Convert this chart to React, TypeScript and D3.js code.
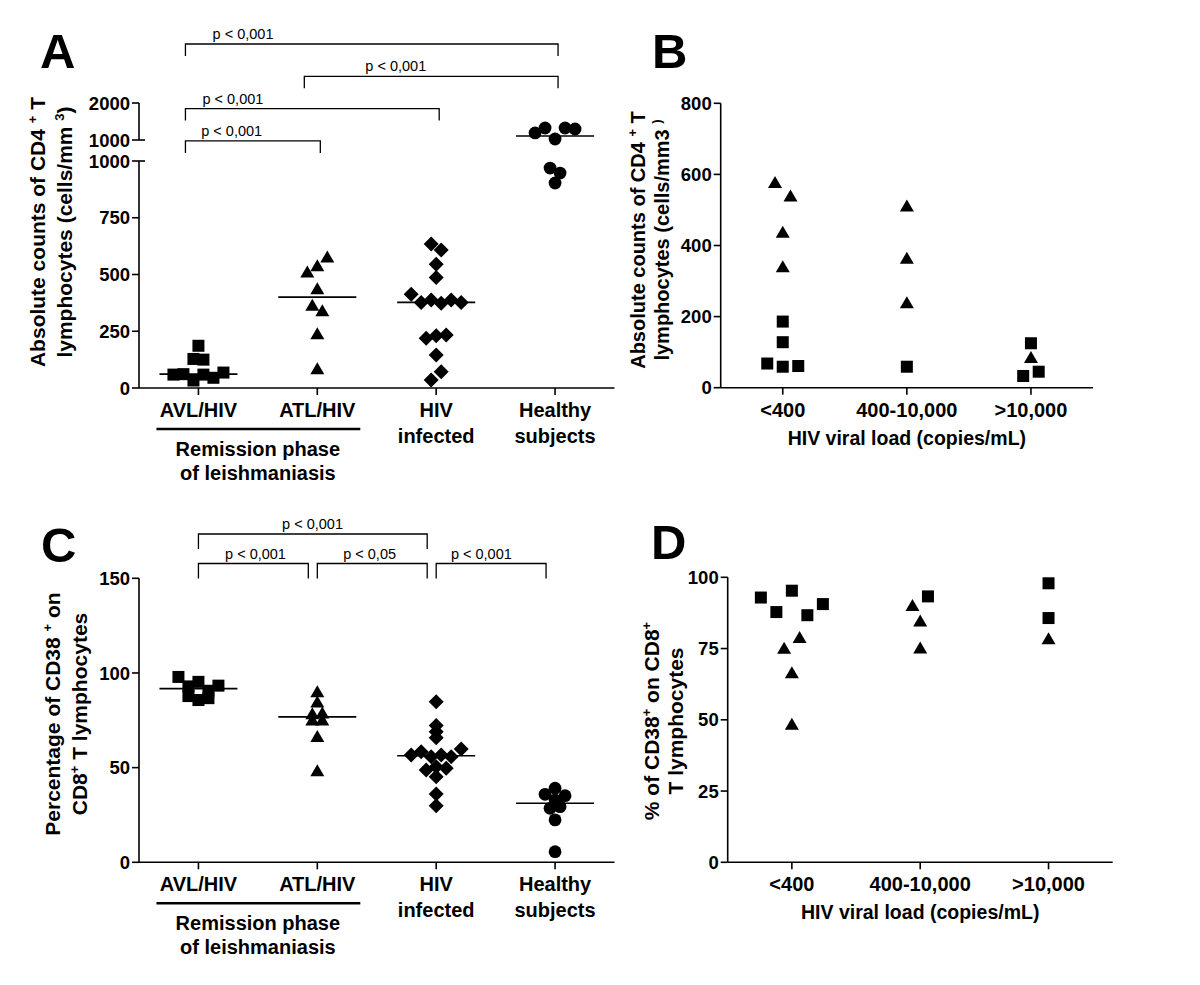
import React from "react";
import * as d3 from "d3";

// ---------------- data ----------------
const groupsAC = ["AVL/HIV", "ATL/HIV", "HIV infected", "Healthy subjects"];
const groupLabelLines = [["AVL/HIV"], ["ATL/HIV"], ["HIV", "infected"], ["Healthy", "subjects"]];
const groupShapes = ["square", "triangle", "diamond", "circle"];
const viralLoadCats = ["<400", "400-10,000", ">10,000"];

// Panel A: absolute CD4+ T counts (cells/mm3)
const cd4AVL = [59, 61, 33, 59, 45, 68, 128, 125, 186];
const cd4ATL = [511, 539, 577, 437, 364, 340, 239, 85];
const cd4HIV = [634, 608, 545, 487, 413, 377, 388, 373, 388, 377, 219, 230, 233, 145, 35, 72];
const cd4Healthy = [1190, 1324, 1027, 1324, 1297, 969, 947, 903];
const cd4TicksLow = [0, 250, 500, 750, 1000];
const cd4TicksHigh = [1000, 2000];

// Panel C: % CD38+ on CD8+ T lymphocytes
const cd38AVL = [97.9, 92.9, 95.3, 90.6, 93.3, 87.8, 85.7, 86.7];
const cd38ATL = [90.1, 84.7, 78.4, 78.9, 75.1, 75.2, 66.5, 48.4];
const cd38HIV = [84.8, 72.2, 69.0, 65.8, 56.7, 58.4, 55.8, 56.7, 55.8, 59.9, 48.8, 50.5, 49.7, 45.2, 36.1, 29.9];
const cd38Healthy = [39.1, 35.9, 32.9, 35.2, 28.5, 29.4, 22.4, 5.6];
const cd38Ticks = [0, 50, 100, 150];

// Panel B: CD4 counts by viral load (AVL = square, ATL = triangle)
const bValues = [
  [68, 59, 61, 128, 186, 577, 539, 437, 340],
  [511, 364, 239, 59],
  [125, 85, 33, 45],
];
const bGroups = [
  ["AVL", "AVL", "AVL", "AVL", "AVL", "ATL", "ATL", "ATL", "ATL"],
  ["ATL", "ATL", "ATL", "AVL"],
  ["AVL", "ATL", "AVL", "AVL"],
];
const bTicks = [0, 200, 400, 600, 800];

// Panel D: % CD38+ by viral load
const dValues = [
  [92.9, 87.8, 95.3, 86.7, 90.6, 75.1, 78.9, 66.5, 48.4],
  [90.1, 93.3, 84.7, 75.2],
  [97.9, 85.7, 78.4],
];
const dGroups = [
  ["AVL", "AVL", "AVL", "AVL", "AVL", "ATL", "ATL", "ATL", "ATL"],
  ["ATL", "AVL", "ATL", "ATL"],
  ["AVL", "AVL", "ATL"],
];
const dTicks = [0, 25, 50, 75, 100];

// significance brackets (group indices, label, stacking level, label centre in category units)
const bracketsA = [
  { from: 0, to: 3, label: "p < 0,001", level: 0, labelAt: 0.375 },
  { from: 1, to: 3, label: "p < 0,001", level: 1, labelAt: 1.66 },
  { from: 0, to: 2, label: "p < 0,001", level: 2, labelAt: 0.29 },
  { from: 0, to: 1, label: "p < 0,001", level: 3, labelAt: 0.28 },
];
const bracketsC = [
  { from: 0, to: 2, label: "p < 0,001", level: 0, labelAt: 0.96 },
  { from: 0, to: 1, label: "p < 0,001", level: 1, labelAt: 0.48 },
  { from: 1, to: 2, label: "p < 0,05", level: 1, labelAt: 1.44 },
  { from: 2, to: 3, label: "p < 0,001", level: 1, labelAt: 2.38 },
];

// axis titles: segments [text, isSuperscript]
const titleA1: [string, boolean][] = [["Absolute counts of CD4 ", false], ["+", true], [" T", false]];
const titleA2: [string, boolean][] = [["lymphocytes (cells/mm ", false], ["3", true], [")", false]];
const titleB1: [string, boolean][] = [["Absolute counts of CD4 ", false], ["+", true], [" T", false]];
const titleB2: [string, boolean][] = [["lymphocytes (cells/mm3 ", false], [")", true]];
const titleC1: [string, boolean][] = [["Percentage of CD38 ", false], ["+", true], [" on", false]];
const titleC2: [string, boolean][] = [["CD8", false], ["+", true], [" T lymphocytes", false]];
const titleD1: [string, boolean][] = [["% of CD38", false], ["+", true], [" on CD8", false], ["+", true]];
const titleD2: [string, boolean][] = [["T lymphocytes", false]];

// ---------------- helpers ----------------
const FONT = "'Liberation Sans', Arial, Helvetica, sans-serif";
const SW = 1.6;

function swarm(ys: number[], step: number, gap: number): number[] {
  const idx = ys.map((_, i) => i).sort((a, b) => ys[b] - ys[a] || a - b);
  const rows: number[][] = [];
  let cur: number[] = [];
  let last = NaN;
  for (const i of idx) {
    if (cur.length && Math.abs(ys[i] - last) < gap) cur.push(i);
    else {
      if (cur.length) rows.push(cur);
      cur = [i];
    }
    last = ys[i];
  }
  if (cur.length) rows.push(cur);
  const off = new Array(ys.length).fill(0);
  rows.forEach((r) => {
    r.sort((a, b) => a - b);
    r.forEach((i, k) => (off[i] = (k - (r.length - 1) / 2) * step));
  });
  return off;
}

function Marker({ shape, x, y }: { shape: string; x: number; y: number }) {
  if (shape === "square") return <rect x={x - 6} y={y - 6} width={12} height={12} fill="#000" />;
  if (shape === "triangle")
    return <path d={`M${x},${y - 6.5}L${x + 7},${y + 5.5}L${x - 7},${y + 5.5}Z`} fill="#000" />;
  if (shape === "diamond")
    return <path d={`M${x},${y - 7.5}L${x + 7.5},${y}L${x},${y + 7.5}L${x - 7.5},${y}Z`} fill="#000" />;
  return <circle cx={x} cy={y} r={6.4} fill="#000" />;
}

function YTicks({ x, ticks, y, size }: any) {
  return (
    <g>
      {ticks.map((t: number, i: number) => (
        <g key={i}>
          <line x1={x - 7} x2={x} y1={y(t)} y2={y(t)} stroke="#000" strokeWidth={SW} />
          <text x={x - 9} y={y(t)} dy="0.36em" textAnchor="end" fontSize={size} fontWeight="bold" fontFamily={FONT}>
            {t}
          </text>
        </g>
      ))}
    </g>
  );
}

function Brackets({ defs, xAt, levelY, drop, l0, r0 }: any) {
  return (
    <g>
      {defs.map((b: any, i: number) => {
        const y = levelY(b.level);
        const x1 = xAt(b.from) + l0;
        const x2 = xAt(b.to) + r0;
        return (
          <g key={i}>
            <path d={`M${x1},${y + drop}V${y}H${x2}V${y + drop}`} fill="none" stroke="#000" strokeWidth={1.3} />
            <text x={xAt(b.labelAt)} y={y - 5} textAnchor="middle" fontSize={14.5} fontFamily={FONT}>
              {b.label}
            </text>
          </g>
        );
      })}
    </g>
  );
}

function GroupPanel({ values, yMap, yBottom, x, brackets, levelY, drop, l0, r0, gapPx }: any) {
  const xAt = (i: number) => (x(groupsAC[0]) as number) + i * x.step();
  const [x0, x1] = x.range();
  return (
    <g>
      <line x1={x0} x2={x1} y1={yBottom} y2={yBottom} stroke="#000" strokeWidth={SW} />
      {groupsAC.map((g, gi) => {
        const cx = x(g) as number;
        const ys = values[gi].map((v: number) => yMap(v));
        const offs = swarm(ys, 10, gapPx);
        const med = d3.median(values[gi]) as number;
        return (
          <g key={g}>
            <line x1={cx} x2={cx} y1={yBottom} y2={yBottom + 7} stroke="#000" strokeWidth={SW} />
            {values[gi].map((v: number, i: number) => (
              <Marker key={i} shape={groupShapes[gi]} x={cx + offs[i]} y={ys[i]} />
            ))}
            <line x1={cx - 39} x2={cx + 39} y1={yMap(med)} y2={yMap(med)} stroke="#000" strokeWidth={1.6} />
            {groupLabelLines[gi].map((t, li) => (
              <text key={li} x={cx} y={yBottom + 29 + li * 26} textAnchor="middle" fontSize={20} fontWeight="bold" fontFamily={FONT}>
                {t}
              </text>
            ))}
          </g>
        );
      })}
      <line
        x1={(x(groupsAC[0]) as number) - 42}
        x2={(x(groupsAC[1]) as number) + 43}
        y1={yBottom + 41}
        y2={yBottom + 41}
        stroke="#000"
        strokeWidth={2.6}
      />
      <text x={(xAt(0) + xAt(1)) / 2} y={yBottom + 68} textAnchor="middle" fontSize={20} fontWeight="bold" fontFamily={FONT}>
        Remission phase
      </text>
      <text x={(xAt(0) + xAt(1)) / 2} y={yBottom + 92} textAnchor="middle" fontSize={20} fontWeight="bold" fontFamily={FONT}>
        of leishmaniasis
      </text>
      <Brackets defs={brackets} xAt={xAt} levelY={levelY} drop={drop} l0={l0} r0={r0} />
    </g>
  );
}

function LoadPanel({ values, groups, x, y, ticks, yBottom, yTopPx }: any) {
  const [x0, x1] = x.range();
  return (
    <g>
      <line x1={x0} x2={x0} y1={yTopPx} y2={yBottom} stroke="#000" strokeWidth={SW} />
      <line x1={x0} x2={x1} y1={yBottom} y2={yBottom} stroke="#000" strokeWidth={SW} />
      <YTicks x={x0} ticks={ticks} y={y} size={18.5} />
      {viralLoadCats.map((c, ci) => {
        const cx = x(c) as number;
        const ys = values[ci].map((v: number) => y(v));
        const offs = swarm(ys, 15.5, 14);
        return (
          <g key={c}>
            <line x1={cx} x2={cx} y1={yBottom} y2={yBottom + 7} stroke="#000" strokeWidth={SW} />
            {values[ci].map((v: number, i: number) => (
              <Marker key={i} shape={groups[ci][i] === "AVL" ? "square" : "triangle"} x={cx + offs[i]} y={ys[i]} />
            ))}
            <text x={cx} y={yBottom + 29} textAnchor="middle" fontSize={20} fontWeight="bold" fontFamily={FONT}>
              {c}
            </text>
          </g>
        );
      })}
      <text x={(x0 + x1) / 2} y={yBottom + 57} textAnchor="middle" fontSize={19.5} fontWeight="bold" fontFamily={FONT}>
        HIV viral load (copies/mL)
      </text>
    </g>
  );
}

function RotTitle({ x, y, segs, size = 21 }: { x: number; y: number; segs: [string, boolean][]; size?: number }) {
  const parts: any[] = [];
  let raised = false;
  segs.forEach(([t, sup], i) => {
    let dy = 0;
    if (sup && !raised) {
      dy = -8;
      raised = true;
    } else if (!sup && raised) {
      dy = 8;
      raised = false;
    }
    parts.push(
      <tspan key={i} dy={dy || undefined} fontSize={sup ? 13 : undefined}>
        {t}
      </tspan>
    );
  });
  return (
    <text transform={`translate(${x},${y}) rotate(-90)`} textAnchor="middle" fontSize={size} fontWeight="bold" fontFamily={FONT}>
      {parts}
    </text>
  );
}

export default function App() {
  // ---- Panel A scales ----
  const xA = d3.scalePoint<string>().domain(groupsAC).range([139, 614.5]).padding(0.5);
  const yALow = d3.scaleLinear().domain([0, 1000]).range([388, 161]);
  const yAHigh = d3.scaleLinear().domain([1000, 2000]).range([140, 103]);
  const yAMap = (v: number) => (v > 1000 ? yAHigh(v) : yALow(v));
  const cd4Values = [cd4AVL, cd4ATL, cd4HIV, cd4Healthy];

  // ---- Panel C scales ----
  const xC = d3.scalePoint<string>().domain(groupsAC).range([139, 614.5]).padding(0.5);
  const yC = d3.scaleLinear().domain([0, 150]).range([862.3, 578.3]);
  const cd38Values = [cd38AVL, cd38ATL, cd38HIV, cd38Healthy];

  // ---- Panel B / D scales ----
  const xB = d3.scalePoint<string>().domain(viralLoadCats).range([720.7, 1093]).padding(0.5);
  const yB = d3.scaleLinear().domain([0, 800]).range([387.7, 103.3]);
  const xD = d3.scalePoint<string>().domain(viralLoadCats).range([727.7, 1112.7]).padding(0.5);
  const yD = d3.scaleLinear().domain([0, 100]).range([862.3, 577.3]);

  const AX = 139;

  return (
    <svg
      width={1200}
      height={985}
      viewBox="0 0 1200 985"
      style={{ position: "absolute", left: 0, top: 0, background: "#fff" }}
      fontFamily={FONT}
    >
      <rect width={1200} height={985} fill="#fff" />

      {/* Panel letters */}
      <text x={40} y={68} fontSize={49} fontWeight="bold" fontFamily={FONT}>A</text>
      <text x={652} y={68} fontSize={49} fontWeight="bold" fontFamily={FONT}>B</text>
      <text x={41} y={562} fontSize={49} fontWeight="bold" fontFamily={FONT}>C</text>
      <text x={651} y={559} fontSize={49} fontWeight="bold" fontFamily={FONT}>D</text>

      {/* ---------- Panel A ---------- */}
      <line x1={AX} x2={AX} y1={yALow(1000)} y2={yALow(0)} stroke="#000" strokeWidth={SW} />
      <line x1={AX} x2={AX} y1={yAHigh(2000)} y2={yAHigh(1000)} stroke="#000" strokeWidth={SW} />
      <line x1={AX} x2={AX + 6} y1={yALow(1000)} y2={yALow(1000)} stroke="#000" strokeWidth={SW} />
      <line x1={AX} x2={AX + 6} y1={yAHigh(1000)} y2={yAHigh(1000)} stroke="#000" strokeWidth={SW} />
      <YTicks x={AX} ticks={cd4TicksLow} y={yALow} size={18.5} />
      <YTicks x={AX} ticks={cd4TicksHigh} y={yAHigh} size={18.5} />
      <GroupPanel
        values={cd4Values}
        yMap={yAMap}
        yBottom={388}
        x={xA}
        brackets={bracketsA}
        levelY={(l: number) => 44 + l * 32.3}
        drop={12}
        l0={-13}
        r0={3}
        gapPx={9.5}
      />
      <RotTitle x={45} y={232} segs={titleA1} />
      <RotTitle x={72} y={232} segs={titleA2} />

      {/* ---------- Panel B ---------- */}
      <LoadPanel values={bValues} groups={bGroups} x={xB} y={yB} ticks={bTicks} yBottom={387.7} yTopPx={103.3} />
      <RotTitle x={645} y={240} segs={titleB1} size={20} />
      <RotTitle x={669} y={240} segs={titleB2} size={20} />

      {/* ---------- Panel C ---------- */}
      <line x1={AX} x2={AX} y1={yC(150)} y2={yC(0)} stroke="#000" strokeWidth={SW} />
      <YTicks x={AX} ticks={cd38Ticks} y={yC} size={18.5} />
      <GroupPanel
        values={cd38Values}
        yMap={yC}
        yBottom={862.3}
        x={xC}
        brackets={bracketsC}
        levelY={(l: number) => 534 + l * 29.5}
        drop={15}
        l0={0}
        r0={-9}
        gapPx={5}
      />
      <RotTitle x={60} y={714} segs={titleC1} />
      <RotTitle x={87} y={714} segs={titleC2} />

      {/* ---------- Panel D ---------- */}
      <LoadPanel values={dValues} groups={dGroups} x={xD} y={yD} ticks={dTicks} yBottom={862.3} yTopPx={577.3} />
      <RotTitle x={659} y={721} segs={titleD1} />
      <RotTitle x={683} y={721} segs={titleD2} />
    </svg>
  );
}
